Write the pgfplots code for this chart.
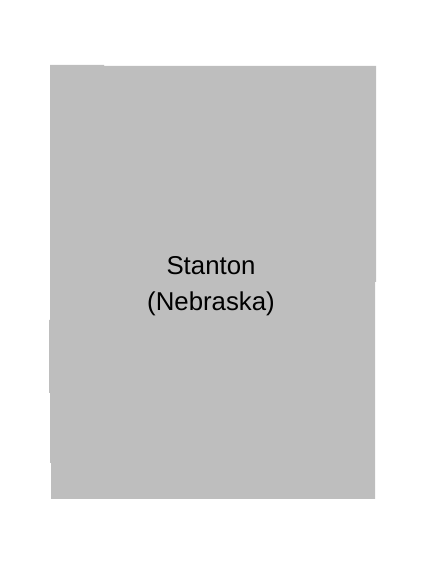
\documentclass[border=0pt]{standalone}
\usepackage{fontspec}
\setmainfont{Liberation Sans}
\usepackage{pgfplots}
\pgfplotsset{compat=1.18}
\definecolor{cgray}{RGB}{190,190,190}
\begin{document}
\begin{tikzpicture}
\begin{axis}[scale only axis, width=425pt, height=564pt,
  xmin=0, xmax=425, ymin=0, ymax=564, hide axis, clip=false]
\addplot[fill=cgray, draw=none] coordinates {
 (50,499) (104,499) (104,498) (376,498) (376,282) (375,282)
 (375,65) (51,65) (51,101) (50,101) (50,171) (49,171)
 (49,244) (50,244) (50,499)} -- cycle;
\node[anchor=base, inner sep=0pt, font=\fontsize{25.8}{30}\selectfont] at (axis cs:211,289.5) {Stanton};
\node[anchor=base, inner sep=0pt, font=\fontsize{25.8}{30}\selectfont] at (axis cs:211,253.5) {(Nebraska)};
\end{axis}
\path (current axis.south west) rectangle (current axis.north east);
\end{tikzpicture}
\end{document}
